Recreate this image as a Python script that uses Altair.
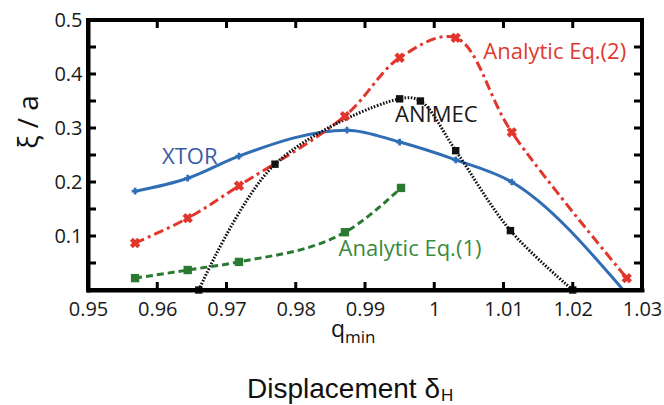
import altair as alt
import pandas as pd

# Normalised displacement xi/a against q_min for each model
xtor_q = [0.9568, 0.9644, 0.9718, 0.9874, 0.9950, 1.0031, 1.0112, 1.0273]
xtor_v = [0.183, 0.207, 0.248, 0.296, 0.274, 0.241, 0.200, 0.0]

eq2_q = [0.9568, 0.9644, 0.9718, 0.9871, 0.9950, 1.0031, 1.0112, 1.0278]
eq2_v = [0.087, 0.133, 0.193, 0.322, 0.430, 0.467, 0.292, 0.022]

animec_q = [0.9660, 0.9770, 0.9950, 0.9980, 1.0031, 1.0110, 1.0200]
animec_v = [0.0, 0.233, 0.354, 0.350, 0.258, 0.110, 0.0]

eq1_q = [0.9568, 0.9644, 0.9718, 0.9871, 0.9952]
eq1_v = [0.022, 0.037, 0.052, 0.107, 0.189]

# Curve labels and where they sit (data coordinates)
label_text = ["XTOR", "ANIMEC", "Analytic Eq.(2)", "Analytic Eq.(1)"]
label_q = [0.9647, 1.0003, 1.0174, 0.9965]
label_v = [0.246, 0.324, 0.441, 0.076]

# Axis ranges and ticks
q_range = [0.95, 1.03]
v_range = [0.0, 0.5]
x_label_vals = [0.95, 0.96, 0.97, 0.98, 0.99, 1.0, 1.01, 1.02, 1.03]
y_label_vals = [0.1, 0.2, 0.3, 0.4, 0.5]
x_inner_ticks = [0.96, 0.97, 0.98, 0.99, 1.0, 1.01, 1.02]
y_inner_ticks = [0.05, 0.1, 0.15, 0.2, 0.25, 0.3, 0.35, 0.4, 0.45]

W, H = 554, 270
BLUE, RED, BLACK, GREEN = "#2f6db4", "#e2352b", "#111111", "#2b7a31"
FONT = "Open Sans"

xs = alt.Scale(domain=q_range, nice=False, zero=False)
ys = alt.Scale(domain=v_range, nice=False, zero=False)

x_axis = alt.Axis(title=None, values=x_label_vals, format="~g", domain=True,
                  domainColor="black", domainWidth=4, domainCap="square",
                  ticks=False, grid=False, labelFont=FONT, labelFontSize=20,
                  labelColor="#1a1a1a", labelPadding=9, labelFlush=False)
y_axis = alt.Axis(title=None, values=y_label_vals, format="~g", domain=True,
                  domainColor="black", domainWidth=4, domainCap="square",
                  ticks=False, grid=False, labelFont=FONT, labelFontSize=20,
                  labelColor="#1a1a1a", labelPadding=6, labelFlush=False)

X = alt.X("q:Q", scale=xs, axis=x_axis)
Y = alt.Y("v:Q", scale=ys, axis=y_axis)


def series(q, v):
    return pd.DataFrame({"q": q, "v": v})


def curve(df, color, interp, dash=None):
    kw = dict(color=color, strokeWidth=3, interpolate=interp)
    if dash:
        kw["strokeDash"] = dash
    return alt.Chart(df).mark_line(**kw).encode(x=X, y=Y)


xtor = series(xtor_q, xtor_v)
eq2 = series(eq2_q, eq2_v)
animec = series(animec_q, animec_v)
eq1 = series(eq1_q, eq1_v)

lines = [
    curve(xtor, BLUE, "monotone"),
    curve(eq2, RED, "catmull-rom", [10, 4, 3, 4]),
    curve(animec, BLACK, "catmull-rom", [1.6, 1.6]),
    curve(eq1, GREEN, "monotone", [7, 4]),
]

markers = [
    alt.Chart(xtor).transform_filter("datum.v > 0")
    .mark_point(shape="cross", filled=True, size=45, color=BLUE, opacity=1)
    .encode(x=X, y=Y),
    alt.Chart(eq2).mark_point(shape="cross", angle=45, filled=True, size=110,
                              color=RED, opacity=1).encode(x=X, y=Y),
    alt.Chart(animec).mark_point(shape="square", filled=True, size=55,
                                 color=BLACK, opacity=1).encode(x=X, y=Y),
    alt.Chart(eq1).mark_point(shape="square", filled=True, size=70,
                              color=GREEN, opacity=1).encode(x=X, y=Y),
]

labels_df = pd.DataFrame({"q": label_q, "v": label_v, "t": label_text})
label_colors = {"XTOR": "#3a5ba8", "ANIMEC": "#1a1a1a",
                "Analytic Eq.(2)": "#e03a30", "Analytic Eq.(1)": "#3a8a40"}
labels = [
    alt.Chart(labels_df).transform_filter(alt.datum.t == name)
    .mark_text(font=FONT, fontSize=22, color=col)
    .encode(x=X, y=Y, text="t:N")
    for name, col in label_colors.items()
]

# Box around the plot area spanning the full q and v ranges
box_df = pd.DataFrame({"q": [q_range[0]], "q2": [q_range[1]],
                       "v": [v_range[0]], "v2": [v_range[1]]})
frame = alt.Chart(box_df).mark_rect(filled=False, stroke="black",
                                    strokeWidth=4, strokeOpacity=1).encode(
    x=X, x2="q2:Q", y=Y, y2="v2:Q")

# Inward-pointing ticks on all four sides
xt = pd.DataFrame({"q": x_inner_ticks})
yt = pd.DataFrame({"v": y_inner_ticks})
TL = 8
ticks = [
    alt.Chart(xt).mark_rule(color="black", strokeWidth=3)
    .encode(x=X, y=alt.value(H), y2=alt.value(H - TL)),
    alt.Chart(xt).mark_rule(color="black", strokeWidth=3)
    .encode(x=X, y=alt.value(0), y2=alt.value(TL)),
    alt.Chart(yt).mark_rule(color="black", strokeWidth=3)
    .encode(y=Y, x=alt.value(0), x2=alt.value(TL)),
    alt.Chart(yt).mark_rule(color="black", strokeWidth=3)
    .encode(y=Y, x=alt.value(W), x2=alt.value(W - TL)),
]


# Axis titles drawn as text
def title_text(text, x, y, size, font=FONT, align="center", angle=0,
               baseline="alphabetic"):
    kw = dict(font=font, fontSize=size, align=align, baseline=baseline,
              color="#111111")
    if angle:
        kw["angle"] = angle
    return alt.Chart(pd.DataFrame({"t": [text]})).mark_text(**kw).encode(
        text="t:N", x=alt.value(x), y=alt.value(y))


titles = [
    title_text("ξ / a", -58, 102, 28, angle=270, baseline="middle"),
    title_text("q", 257, 317, 23, align="right"),
    title_text("min", 257, 323, 17, align="left"),
    title_text("Displacement δ", 352, 378, 28, font="Liberation Sans",
               align="right"),
    title_text("H", 353, 381, 17, font="Liberation Sans", align="left"),
]

chart = alt.layer(*lines, *markers, *labels, frame, *ticks, *titles).properties(
    width=W, height=H, background="white",
    padding={"left": 88, "top": 20, "right": 22, "bottom": 115},
    autosize=alt.AutoSizeParams(type="none"),
).configure_view(stroke="black", strokeWidth=4)

chart.save("out.html", embed_options={"renderer": "svg", "actions": False})
